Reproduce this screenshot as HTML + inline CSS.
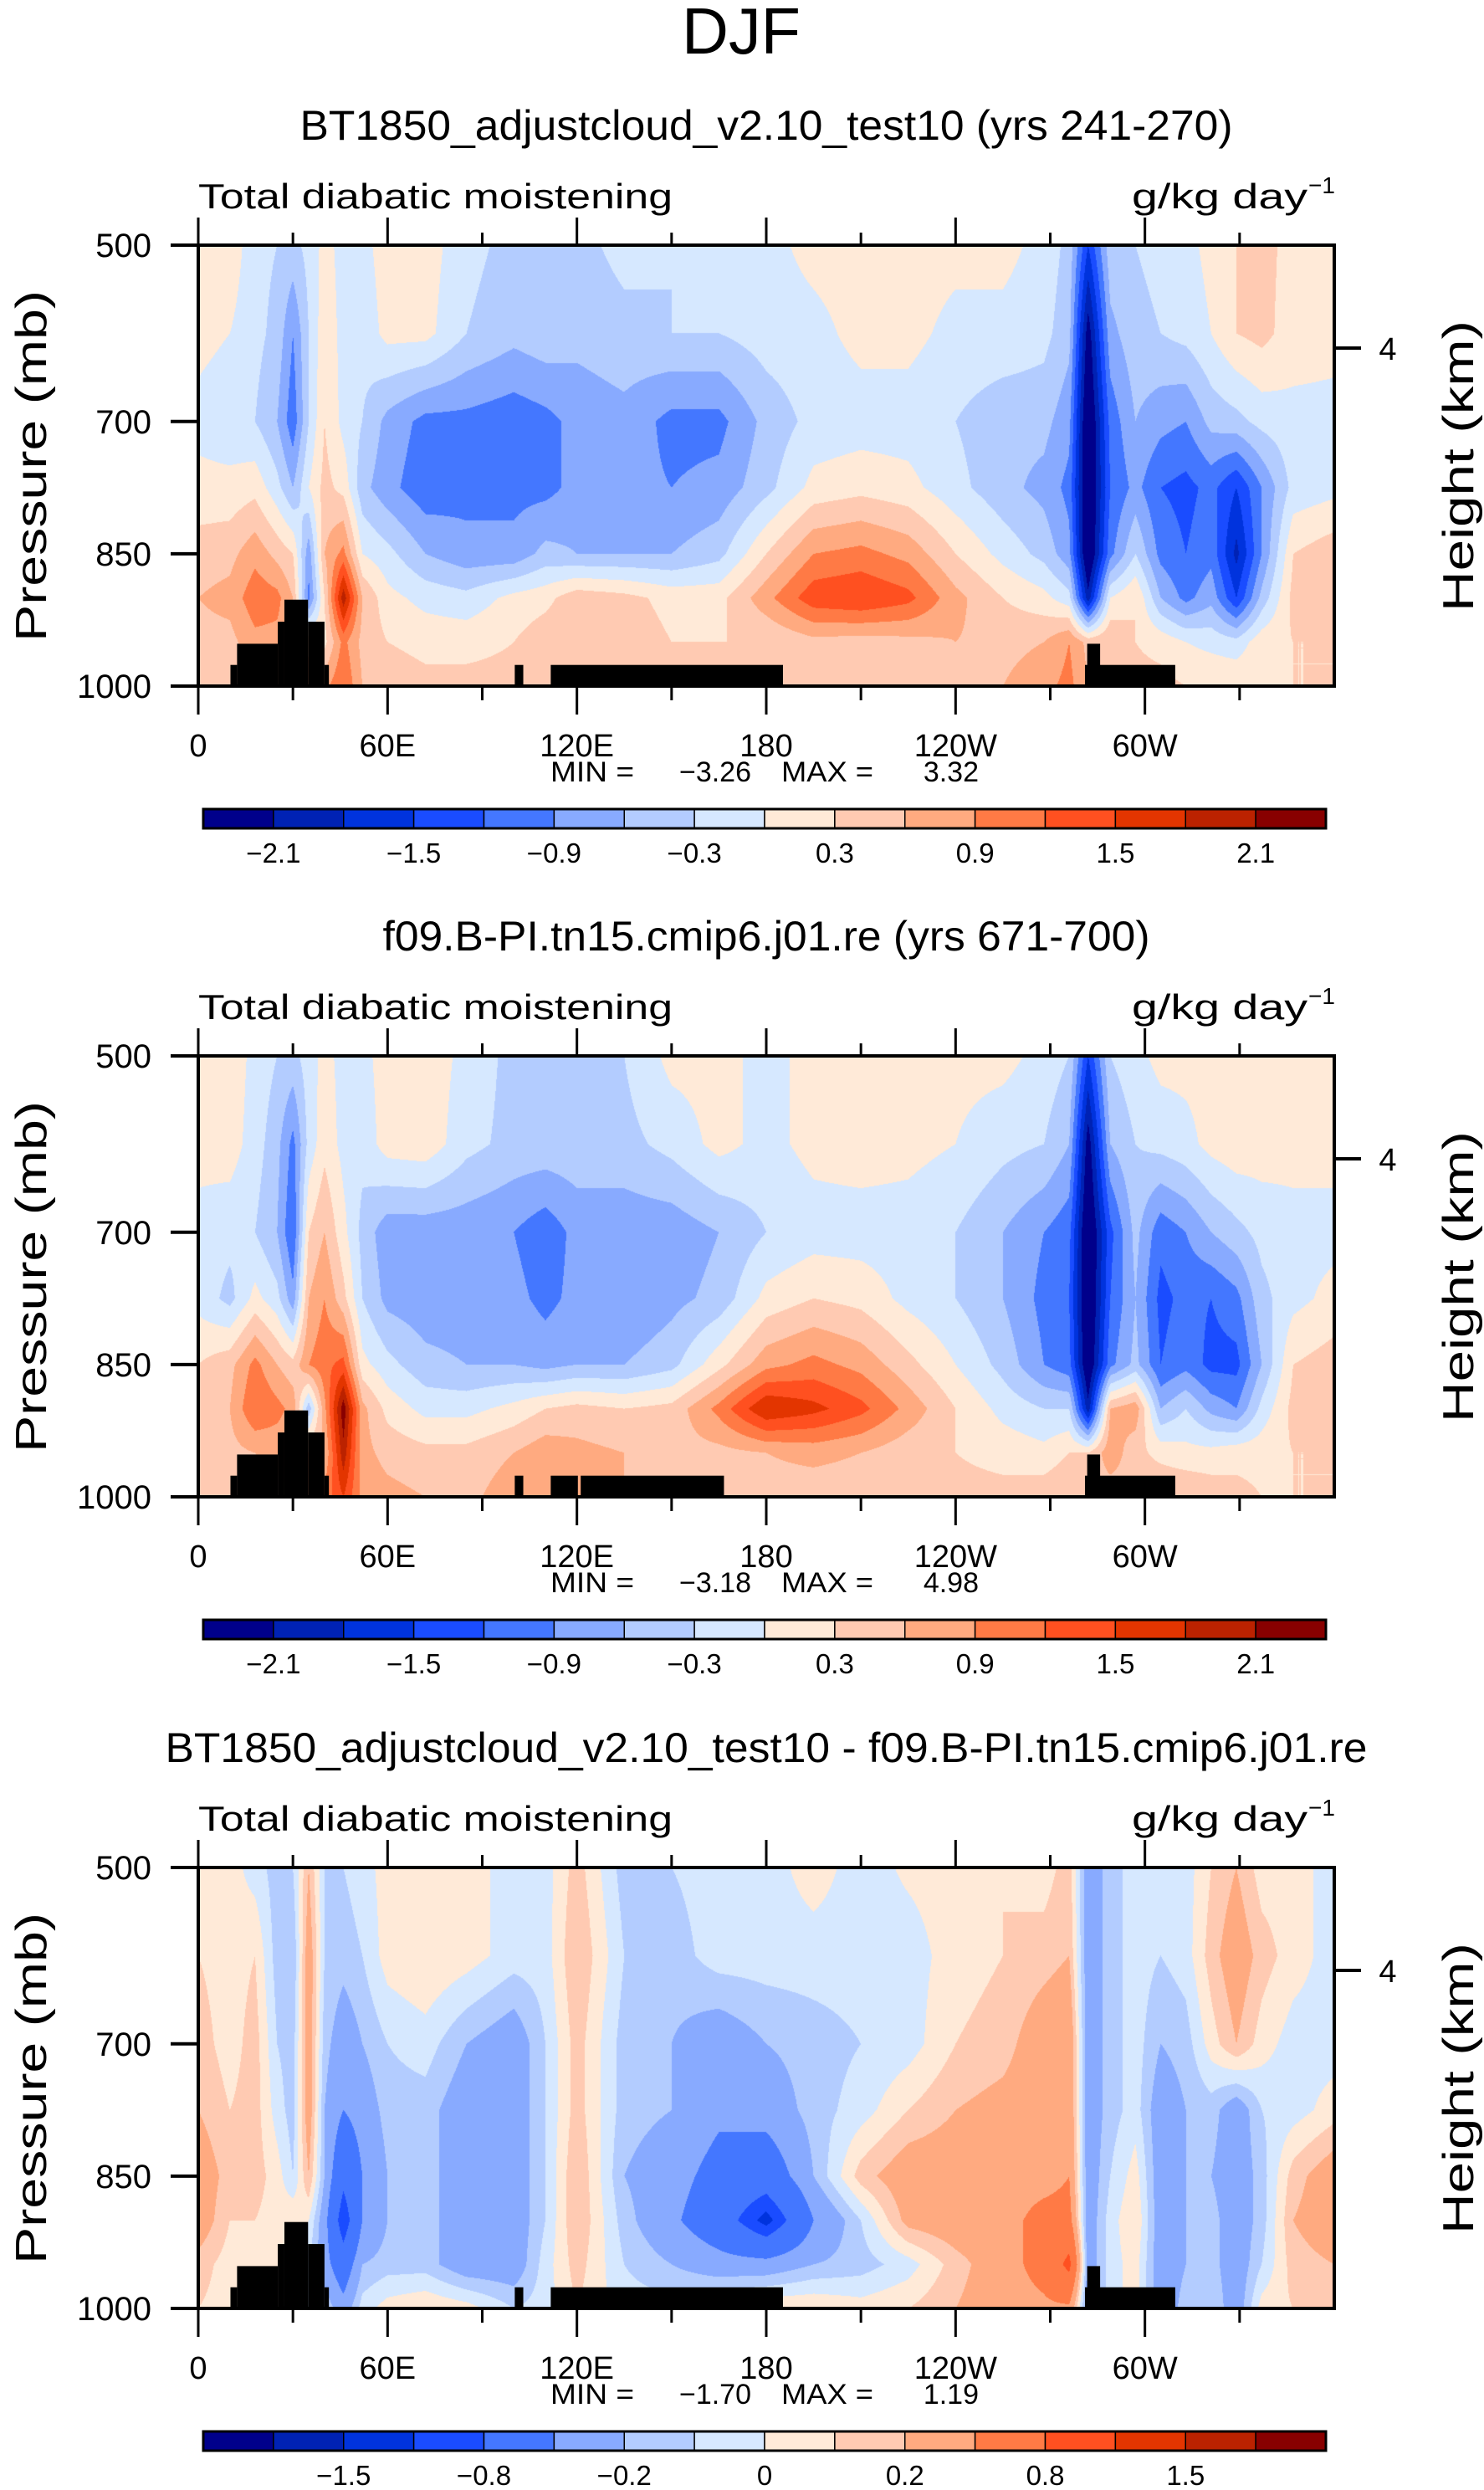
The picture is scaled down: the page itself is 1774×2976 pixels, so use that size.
<!DOCTYPE html>
<html><head><meta charset="utf-8"><style>
html,body{margin:0;padding:0;background:#fff;}
#wrap{position:relative;width:1774px;height:2976px;overflow:hidden;}
canvas,svg{position:absolute;left:0;top:0;}
text{font-family:"Liberation Sans",sans-serif;fill:#000;}
</style></head><body>
<div id="wrap">
<canvas id="cv" width="1774" height="2976"></canvas>
<svg id="sv" width="1774" height="2976" xmlns="http://www.w3.org/2000/svg">
<text x="886" y="64" font-size="78" text-anchor="middle" textLength="142" lengthAdjust="spacingAndGlyphs">DJF</text>
</svg>
</div>
<script>
const lonNodes=[0,10,18,25,30,35,40,46,52,60,72,85,100,110,120,135,150,165,180,195,210,225,240,255,268,276,282,289,297,305,313,321,329,337,347,360];
const presNodes=[500,600,700,775,850,900,950,1000];
const panel1Rows=[
[0.15,0.2,-0.2,-0.3,-0.4,-0.2,0.1,-0.1,-0.1,0.15,0.15,-0.2,-0.4,-0.3,-0.4,-0.2,-0.3,-0.15,-0.1,0.1,0.15,0.15,0.1,0.1,-0.1,-0.4,-1.5,-0.4,-0.3,-0.2,-0.1,0.1,0.3,0.4,0.2,0.15],
[0.1,0,-0.2,-0.4,-0.9,-0.3,0.2,-0.1,-0.2,0.1,0.1,-0.3,-0.5,-0.4,-0.5,-0.4,-0.3,-0.3,-0.15,-0.1,0.1,0.1,-0.1,-0.1,-0.2,-0.5,-2.3,-0.7,-0.4,-0.3,-0.2,0,0.3,0.4,0.15,0.1],
[-0.1,-0.2,-0.3,-0.6,-1.1,-0.3,0.3,-0.1,-0.3,-0.7,-1.0,-1.0,-1.1,-1.0,-0.8,-0.7,-1.0,-1.0,-0.5,-0.2,-0.15,-0.15,-0.3,-0.5,-0.5,-0.8,-2.6,-1.1,-0.6,-0.8,-0.9,-0.5,-0.4,-0.2,-0.1,-0.1],
[0.1,0.1,0.2,-0.2,-0.6,0,0.4,0.2,-0.5,-0.8,-1.1,-1.0,-1.0,-1.0,-0.8,-0.8,-0.9,-0.8,-0.4,0.1,0.2,0.1,-0.2,-0.5,-0.7,-1.0,-2.6,-1.2,-0.8,-1.2,-1.3,-1.1,-1.5,-0.9,-0.2,-0.1],
[0.45,0.5,0.8,0.5,0.3,-0.8,0.6,1.0,0,-0.2,-0.6,-0.8,-0.8,-0.5,-0.6,-0.6,-0.6,-0.4,0.3,0.9,1.0,0.8,0.3,-0.1,-0.4,-0.8,-2.6,-1.0,-0.3,-1.0,-1.2,-1.0,-1.9,-0.9,0.3,0.5],
[0.6,0.7,1.1,1.0,0.6,-1.0,0.3,2.0,0.6,0.1,-0.1,-0.2,0.1,0.2,0.5,0.4,0.2,0.2,0.8,1.4,1.5,1.3,0.7,0.3,0.1,-0.2,-2.0,0,0.3,-0.6,-1.0,-0.7,-1.5,-0.5,0.4,0.6],
[0.5,0.5,0.8,0.8,0.6,0.5,0.2,1.0,0.5,0.3,0.2,0.2,0.3,0.5,0.6,0.5,0.3,0.3,0.3,0.5,0.45,0.5,0.6,0.5,0.6,0.9,0.5,0.6,0.3,0.2,0,-0.1,-0.2,0.2,0.3,0.3],
[0.3,0.4,0.6,0.6,0.6,0.8,0.8,1.2,0.6,0.5,0.4,0.4,0.4,0.5,0.5,0.4,0.4,0.35,0.35,0.4,0.4,0.45,0.5,0.6,0.8,1.0,0.6,0.4,0.4,0.4,0.3,0.3,0.3,0.3,0.3,0.3]];
const panel2Rows=[
[0.1,0.2,-0.1,-0.3,-0.4,-0.15,0.1,-0.1,-0.1,0.15,0.2,-0.1,-0.4,-0.3,-0.5,-0.3,0.1,0.1,-0.1,0.1,0.15,0.15,0.1,0.1,-0.1,-0.3,-1.5,-0.3,-0.1,0.1,0.1,0.1,0.3,0.3,0.15,0.15],
[0.1,0.15,-0.15,-0.5,-1.0,-0.2,0.2,-0.1,-0.2,0.15,0.2,-0.2,-0.4,-0.4,-0.4,-0.4,-0.2,0.1,-0.1,0.1,0.15,0.1,0,-0.2,-0.3,-0.6,-2.3,-0.6,-0.3,-0.2,-0.1,0.1,0.2,0.15,0.1,0.1],
[-0.1,-0.2,-0.3,-0.6,-1.2,0.3,0.6,0.1,-0.4,-0.8,-0.8,-0.8,-0.9,-1.1,-0.8,-0.8,-0.8,-0.6,-0.3,-0.15,-0.15,-0.15,-0.3,-0.6,-0.9,-1.1,-2.6,-1.3,-0.5,-1.1,-0.9,-0.6,-0.4,-0.2,-0.1,-0.1],
[-0.1,-0.4,0.1,-0.2,-0.8,0.6,0.9,0.4,-0.3,-0.7,-0.8,-0.8,-0.8,-1.0,-0.8,-0.9,-0.7,-0.5,0.1,0.3,0.2,-0.1,-0.3,-0.6,-1.0,-1.2,-2.6,-1.2,-0.6,-1.3,-1.1,-1.2,-1.0,-0.4,-0.1,0.1],
[0.3,0.5,1.0,0.6,0.4,0.9,1.1,1.3,0.1,-0.2,-0.5,-0.6,-0.6,-0.7,-0.6,-0.6,-0.4,0.2,0.8,1.0,0.8,0.4,0,-0.4,-0.9,-1.1,-2.5,-1.0,-0.5,-1.2,-1.0,-1.3,-1.3,-0.6,0.3,0.45],
[0.5,0.6,1.2,1.0,0.8,-0.5,0.8,2.3,0.7,0.2,-0.1,-0.1,0.1,0.3,0.4,0.3,0.4,1.0,1.8,1.6,1.3,0.8,0.3,-0.1,-0.3,-0.3,-2.0,0.6,0.8,-0.6,-0.3,-0.7,-0.9,-0.2,0.4,0.5],
[0.4,0.5,0.6,0.7,0.7,0.6,0.6,2.0,0.7,0.5,0.4,0.4,0.6,0.8,0.7,0.6,0.5,0.5,0.6,0.7,0.6,0.4,0.3,0.2,0.1,0.3,0.3,0.8,0.4,0.2,0.1,0.1,0.2,0.2,0.3,0.3],
[0.3,0.4,0.5,0.5,0.6,0.8,1.0,1.5,0.8,0.7,0.6,0.5,0.8,0.8,0.7,0.6,0.5,0.4,0.45,0.4,0.4,0.4,0.4,0.4,0.5,0.6,0.5,0.4,0.5,0.6,0.6,0.5,0.4,0.3,0.3,0.3]];
const panel3Rows=[
[0.1,0.05,-0.05,-0.15,-0.1,0.2,-0.1,-0.1,-0.05,0.05,0.1,0.05,-0.05,-0.05,0.15,-0.15,-0.1,-0.05,-0.05,0.05,-0.05,0.02,0.05,0.1,0.05,0.15,-0.3,-0.15,-0.05,-0.1,-0.05,0.1,0.2,0.05,0.05,-0.05],
[0.1,0.05,0.1,-0.15,-0.2,0.3,-0.1,-0.15,-0.1,0.05,0.1,0.05,-0.05,-0.05,0.2,-0.1,-0.15,-0.05,-0.05,-0.05,-0.05,-0.05,0.05,0.1,0.15,0.2,-0.3,-0.15,-0.05,-0.1,-0.05,0.15,0.3,0.15,0.05,-0.05],
[0.15,0.05,0.15,-0.1,-0.15,0.3,-0.15,-0.3,-0.2,-0.1,-0.05,-0.2,-0.3,-0.1,0.15,-0.15,-0.2,-0.3,-0.2,-0.15,-0.1,-0.05,0.1,0.15,0.3,0.35,-0.3,-0.15,-0.05,-0.2,-0.15,0.05,0.2,0.05,-0.05,-0.05],
[0.2,0.1,0.15,-0.05,-0.15,0.3,-0.2,-0.4,-0.3,-0.15,-0.15,-0.3,-0.3,-0.1,0.15,-0.15,-0.2,-0.35,-0.3,-0.15,-0.05,0.1,0.2,0.25,0.3,0.35,-0.3,-0.15,-0.05,-0.3,-0.2,-0.15,-0.3,-0.1,-0.05,0.05],
[0.3,0.15,0.15,0.05,-0.1,0.2,-0.2,-0.7,-0.4,-0.2,-0.15,-0.3,-0.3,-0.1,0.2,-0.2,-0.3,-0.5,-0.6,-0.2,0.15,0.3,0.3,0.3,0.3,0.4,-0.3,-0.1,0.05,-0.3,-0.2,-0.2,-0.3,-0.15,0.15,0.3],
[0.3,0.1,0.1,0.05,0.1,0.0,-0.3,-1.0,-0.4,-0.2,-0.15,-0.3,-0.3,-0.1,0.2,-0.15,-0.35,-0.6,-1.1,-0.4,-0.1,0.25,0.3,0.3,0.5,0.5,-0.3,-0.05,0.1,-0.3,-0.2,-0.15,-0.3,-0.15,0.2,0.3],
[0.15,0.05,0.05,0.05,0.05,-0.1,-0.3,-0.6,-0.2,-0.15,-0.15,-0.3,-0.3,-0.05,0.15,-0.1,-0.2,-0.3,-0.3,-0.2,-0.15,-0.05,0.15,0.3,0.5,0.9,-0.3,-0.05,0.05,-0.3,-0.2,-0.15,-0.3,-0.1,0.15,0.2],
[0.1,0.05,0.05,0.05,0.05,-0.05,-0.1,-0.3,-0.05,0.05,0.1,0.05,-0.1,-0.05,0.1,-0.05,-0.05,0.05,0.1,0.1,0.05,0.1,0.2,0.3,0.35,0.35,-0.3,-0.05,0.05,-0.3,-0.15,-0.1,-0.3,0.05,0.1,0.1]];
const levelsAbs=[-2.1,-1.8,-1.5,-1.2,-0.9,-0.6,-0.3,0,0.3,0.6,0.9,1.2,1.5,1.8,2.1];
const levelsDiff=[-2,-1.5,-1,-0.8,-0.4,-0.2,-0.1,0,0.1,0.2,0.4,0.8,1,1.5,2];
const labelsAbs=["−2.1","","−1.5","","−0.9","","−0.3","","0.3","","0.9","","1.5","","2.1"];
const labelsDiff=["","−1.5","","−0.8","","−0.2","","0","","0.2","","0.8","","1.5",""];
const cmap=["#00008b","#0022b4","#0033dd","#1a4cff","#4477ff","#88aaff","#b3ccff","#d6e8ff","#ffead8","#ffcab2","#ffaa80","#ff7a45","#ff5020","#e33500","#bb2200","#880000"];
const landCommon=[[10.2,12.3,976],[12.3,25.2,952],[25.2,27.3,927],[27.3,34.8,902],[34.8,40,927],[40,41.4,976],[100.3,103,976],[281,309.6,976],[281.7,285.8,952]];
const land1=[[111.7,185.3,976]];
const land2=[[111.7,120.3,976],[121.2,166.6,976]];
const land3=[[111.7,185.3,976]];
const titles=["BT1850_adjustcloud_v2.10_test10 (yrs 241-270)","f09.B-PI.tn15.cmip6.j01.re (yrs 671-700)","BT1850_adjustcloud_v2.10_test10 - f09.B-PI.tn15.cmip6.j01.re"];
const titleWidths=[1115,917,1437];
const minVals=["−3.26","−3.18","−1.70"];
const maxVals=["3.32","4.98","1.19"];
const lonTicks=[0,60,120,180,240,300];
const lonTickLabels=["0","60E","120E","180","120W","60W"];
const presTicks=[500,700,850,1000];

const PL=237,PR=1595,PH=527,tops=[293,1262,2232];
const NS="http://www.w3.org/2000/svg";
const sv=document.getElementById('sv');
const ctx=document.getElementById('cv').getContext('2d');
function xOf(lon){return PL+lon/360*(PR-PL);}
function yOf(p,top){return top+(p-500)/500*PH;}
function mk(tag,attrs,parent){const e=document.createElementNS(NS,tag);for(const k in attrs)e.setAttribute(k,attrs[k]);(parent||sv).appendChild(e);return e;}
function hex(c){return [parseInt(c.substr(1,2),16),parseInt(c.substr(3,2),16),parseInt(c.substr(5,2),16)];}
const cmapRGB=cmap.map(hex);
function idx(arr,v){let i=0;while(i<arr.length-2&&v>arr[i+1])i++;return i;}
function valueAt(rows,lon,p){
  const i=idx(lonNodes,lon),j=idx(presNodes,p);
  const tx=(lon-lonNodes[i])/(lonNodes[i+1]-lonNodes[i]);
  const ty=(p-presNodes[j])/(presNodes[j+1]-presNodes[j]);
  const a=rows[j][i],b=rows[j][i+1],c=rows[j+1][i],d=rows[j+1][i+1];
  return (a*(1-tx)+b*tx)*(1-ty)+(c*(1-tx)+d*tx)*ty;
}
function colorIndex(v,levels){let k=0;while(k<levels.length&&v>=levels[k])k++;return k;}
function drawField(rows,levels,top){
  const w=PR-PL,h=PH;const img=ctx.createImageData(w,h);
  for(let py=0;py<h;py++){const p=500+(py+0.5)/h*500;
    for(let px=0;px<w;px++){const lon=(px+0.5)/w*360;
      const c=cmapRGB[colorIndex(valueAt(rows,lon,p),levels)];
      const o=(py*w+px)*4;img.data[o]=c[0];img.data[o+1]=c[1];img.data[o+2]=c[2];img.data[o+3]=255;}}
  ctx.putImageData(img,PL,top);
}
function panel(n,rows,levels,labels,land){
  const top=tops[n],off=top-293,bot=top+PH;
  drawField(rows,levels,top);
  const g=mk('g',{});
  
  
  let t=mk('text',{x:(PL+PR)/2,y:167+off,'font-size':50,'text-anchor':'middle',textLength:titleWidths[n],lengthAdjust:'spacingAndGlyphs'},g);t.textContent=titles[n];
  
  
  t=mk('text',{x:237,y:249+off,'font-size':42,textLength:567,lengthAdjust:'spacingAndGlyphs'},g);t.textContent='Total diabatic moistening';
  
  
  t=mk('text',{x:1353,y:249+off,'font-size':42,textLength:210,lengthAdjust:'spacingAndGlyphs'},g);t.textContent='g/kg day';
  
  
  t=mk('text',{x:1564,y:231+off,'font-size':28},g);t.textContent='−1';
  
  
  // land
  land.forEach(r=>{const e=mk('rect',{x:xOf(r[0]),y:yOf(r[2],top),width:xOf(r[1])-xOf(r[0]),height:bot-yOf(r[2],top),fill:'#000'},g);
    
    });
  // frame
  let e=mk('rect',{x:PL,y:top,width:PR-PL,height:PH,fill:'none',stroke:'#000','stroke-width':4},g);
  
  
  // lon ticks
  for(let lon=0;lon<360;lon+=30){const x=xOf(lon),maj=lon%60===0;
    mk('line',{x1:x,x2:x,y1:top,y2:top-(maj?33:15),stroke:'#000','stroke-width':3},g);
    mk('line',{x1:x,x2:x,y1:bot,y2:bot+(maj?34:17),stroke:'#000','stroke-width':3},g);}
  lonTicks.forEach((lon,i)=>{const l=mk('text',{x:xOf(lon),y:904+off,'font-size':38,'text-anchor':'middle'},g);l.textContent=lonTickLabels[i];
    
    });
  presTicks.forEach(p=>{const y=yOf(p,top);mk('line',{x1:PL-33,x2:PL,y1:y,y2:y,stroke:'#000','stroke-width':4},g);
    const l=mk('text',{x:181,y:y+14,'font-size':40,'text-anchor':'end'},g);l.textContent=String(p);
    
    });
  mk('line',{x1:PR,x2:PR+32,y1:416+off,y2:416+off,stroke:'#000','stroke-width':4},g);
  t=mk('text',{x:1659,y:430+off,'font-size':38,'text-anchor':'middle'},g);t.textContent='4';
  
  
  t=mk('text',{x:0,y:0,'font-size':52,'text-anchor':'middle',textLength:420,lengthAdjust:'spacingAndGlyphs',transform:`translate(55,${557+off}) rotate(-90)`},g);t.textContent='Pressure (mb)';
  
  
  t=mk('text',{x:0,y:0,'font-size':52,'text-anchor':'middle',textLength:348,lengthAdjust:'spacingAndGlyphs',transform:`translate(1761,${557+off}) rotate(-90)`},g);t.textContent='Height (km)';
  
  
  t=mk('text',{x:658,y:934+off,'font-size':34,textLength:100,lengthAdjust:'spacingAndGlyphs'},g);t.textContent='MIN =';
  
  
  t=mk('text',{x:898,y:934+off,'font-size':34,'text-anchor':'end'},g);t.textContent=minVals[n];
  
  
  t=mk('text',{x:934,y:934+off,'font-size':34,textLength:110,lengthAdjust:'spacingAndGlyphs'},g);t.textContent='MAX =';
  
  
  t=mk('text',{x:1170,y:934+off,'font-size':34,'text-anchor':'end'},g);t.textContent=maxVals[n];
  
  
  // colorbar
  const cx0=243,cx1=1585,cy=967+off,ch=23,bw=(cx1-cx0)/cmap.length;
  cmap.forEach((c,i)=>{const b=mk('rect',{x:cx0+i*bw,y:cy,width:bw,height:ch,fill:c,stroke:'#000','stroke-width':1.5},g);
    
    });
  e=mk('rect',{x:cx0,y:cy,width:cx1-cx0,height:ch,fill:'none',stroke:'#000','stroke-width':3},g);
  
  
  labels.forEach((s,i)=>{if(!s)return;const l=mk('text',{x:cx0+(i+1)*bw,y:1031+off,'font-size':33,'text-anchor':'middle'},g);l.textContent=s;
    
    });
}
panel(0,panel1Rows,levelsAbs,labelsAbs,landCommon.concat(land1));
panel(1,panel2Rows,levelsAbs,labelsAbs,landCommon.concat(land2));
panel(2,panel3Rows,levelsDiff,labelsDiff,landCommon.concat(land3));
</script>
</body></html>
